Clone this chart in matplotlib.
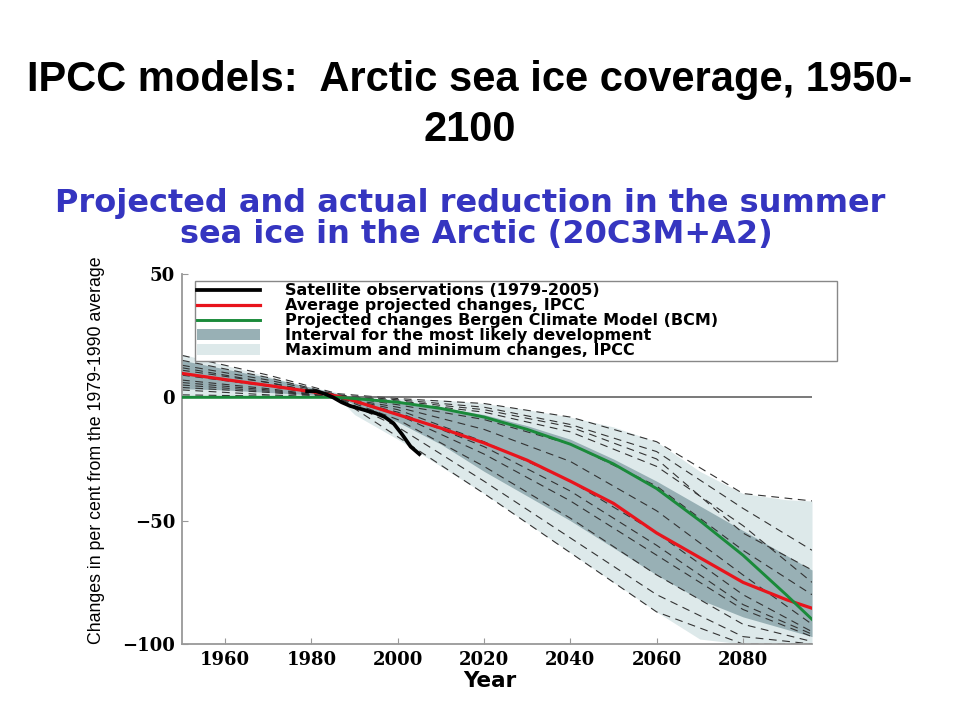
import matplotlib
matplotlib.use("Agg")
import matplotlib.pyplot as plt
from matplotlib import font_manager
from matplotlib.lines import Line2D
from matplotlib.patches import Patch

# data
years = [1950, 1960, 1970, 1980, 1986, 1990, 2000, 2010, 2020, 2030, 2040,
         2050, 2060, 2070, 2080, 2090, 2096]
ipcc_mean = [9.7, 7.2, 4.8, 2.3, 0.5, -1.5, -7, -12.5, -18.5, -25.5, -34,
             -43, -55, -65, -75, -82, -85.5]
bcm = [0, 0, 0, 0, 0, -0.5, -2, -4.5, -8, -13, -19, -27, -37, -50, -64, -80, -90]
likely_hi = [15, 11.5, 8, 4, 1.5, -0.5, -2, -4, -7, -11.5, -17, -25, -34, -44,
             -54, -64, -70]
likely_lo = [3.5, 3, 2, 1, 0.5, -3, -10, -19, -30, -40, -50, -61, -72, -82,
             -89, -94, -97]
maxmin_hi = [17.5, 13, 8.5, 4, 2, 0, -0.5, -1, -2.5, -5, -8, -12, -18, -30,
             -39, -41.5, -42]
maxmin_lo = [0.5, 0.3, 0.2, 0, 0, -7, -17, -28, -39, -51, -63, -75, -87, -98,
             -100, -100, -100]

obs_years = [1979, 1981, 1983, 1985, 1987, 1989, 1991, 1993, 1995, 1997, 1999,
             2001, 2003, 2005]
obs = [2.5, 2.5, 1.5, 0, -2, -3.5, -4.5, -5.5, -6.5, -8, -10.5, -15, -20, -23]

model_years = [1950, 1970, 1986, 2000, 2020, 2040, 2060, 2080, 2096]
models = [
    [17, 9, 1.5, -0.5, -2.5, -8, -18, -39, -42],
    [15, 8, 1, -1, -4, -11, -22, -45, -62],
    [13, 7, 1, -2, -6, -14, -28, -52, -75],
    [12, 6, 0.5, -1.5, -5, -12, -25, -55, -70],
    [11, 6, 0.5, -3, -9, -19, -36, -62, -80],
    [9, 4.5, 0, -4, -13, -26, -46, -72, -92],
    [7, 3.5, 0, -5, -18, -34, -55, -80, -95],
    [6, 3, 0, -6, -20, -38, -60, -84, -96],
    [5, 2.5, 0, -7, -23, -42, -64, -86, -97],
    [4, 2, 0, -9, -28, -49, -72, -92, -99],
    [3, 1, 0, -12, -34, -57, -80, -97, -100],
    [1, 0.5, 0, -16, -39, -63, -87, -100, -100],
]

legend_labels = ["Satellite observations (1979-2005)",
                 "Average projected changes, IPCC",
                 "Projected changes Bergen Climate Model (BCM)",
                 "Interval for the most likely development",
                 "Maximum and minimum changes, IPCC"]

xticks = [1960, 1980, 2000, 2020, 2040, 2060, 2080]
yticks = [-100, -50, 0, 50]

light = "#dde9ea"
dark = "#98b0b5"
red = "#e8141c"
green = "#1a8a3a"
blue = "#3535c0"


def has_font(name):
    try:
        font_manager.findfont(font_manager.FontProperties(family=name),
                              fallback_to_default=False)
        return True
    except ValueError:
        return False


fig = plt.figure(figsize=(9.6, 7.2), dpi=100)
fig.patch.set_facecolor("white")

# slide title
if has_font("Liberation Sans Narrow"):
    tfam, tsize = "Liberation Sans Narrow", 39
else:
    tfam, tsize = "Liberation Sans", 30
fig.text(470 / 960, 1 - 91 / 720, "IPCC models:  Arctic sea ice coverage, 1950-",
         ha="center", va="baseline", family=tfam, fontsize=tsize, weight="bold")
fig.text(470 / 960, 1 - 141 / 720, "2100",
         ha="center", va="baseline", family=tfam, fontsize=tsize, weight="bold")

# chart heading
fig.text(470 / 960, 1 - 212 / 720, "Projected and actual reduction in the summer",
         ha="center", va="baseline", family="DejaVu Sans", fontsize=23,
         weight="bold", color=blue)
fig.text(476 / 960, 1 - 243 / 720, "sea ice in the Arctic (20C3M+A2)",
         ha="center", va="baseline", family="DejaVu Sans", fontsize=23,
         weight="bold", color=blue)

ax = fig.add_axes([182 / 960, 1 - 644 / 720, 630 / 960, 370 / 720])

ax.fill_between(years, maxmin_lo, maxmin_hi, color=light, lw=0, zorder=1)
ax.fill_between(years, likely_lo, likely_hi, color=dark, lw=0, zorder=1.5)
for m in models:
    ax.plot(model_years, m, color="#333333", lw=0.8, ls=(0, (7, 5)), zorder=2)
ax.axhline(0, color="#555555", lw=1.1, zorder=2.5)
ax.plot(years, ipcc_mean, color=red, lw=2.3, zorder=3)
ax.plot(years, bcm, color=green, lw=2.1, zorder=3)
ax.plot(obs_years, obs, color="black", lw=2.7, zorder=4)

ax.set_xlim(1950, 2096)
ax.set_ylim(-100, 50)
ax.set_xticks(xticks)
ax.set_yticks(yticks)
for s in ["top", "right"]:
    ax.spines[s].set_visible(False)
for s in ["left", "bottom"]:
    ax.spines[s].set_color("#999999")
    ax.spines[s].set_linewidth(1.3)
ax.tick_params(direction="in", length=4, color="#999999", pad=5)
for lab in ax.get_xticklabels() + ax.get_yticklabels():
    lab.set_family("DejaVu Serif")
    lab.set_weight("bold")
    lab.set_fontsize(13)

fig.text(97 / 960, 1 - 450 / 720, "Changes in per cent from the 1979-1990 average",
         rotation=90, ha="center", va="center", family="Liberation Sans",
         fontsize=12.8)
fig.text(490 / 960, 1 - 681 / 720, "Year", ha="center", va="center",
         family="DejaVu Sans", fontsize=15.5, weight="bold")

handles = [Line2D([], [], color="black", lw=2.7),
           Line2D([], [], color=red, lw=2.3),
           Line2D([], [], color=green, lw=2.1),
           Patch(facecolor=dark, edgecolor="none"),
           Patch(facecolor=light, edgecolor="none")]
leg = ax.legend(handles, legend_labels, loc="upper left",
                bbox_to_anchor=(195 / 960, 1 - 359 / 720, 642 / 960, 78 / 720),
                bbox_transform=fig.transFigure, mode="expand", borderaxespad=0,
                prop={"family": "DejaVu Sans", "weight": "bold", "size": 11.5},
                handlelength=3.9, handletextpad=1.6, labelspacing=0.0,
                borderpad=0.15, fancybox=False, framealpha=1)
leg.get_frame().set_edgecolor("#888888")
leg.get_frame().set_linewidth(1)
leg.set_zorder(5)

fig.savefig("out.png", dpi=100)
